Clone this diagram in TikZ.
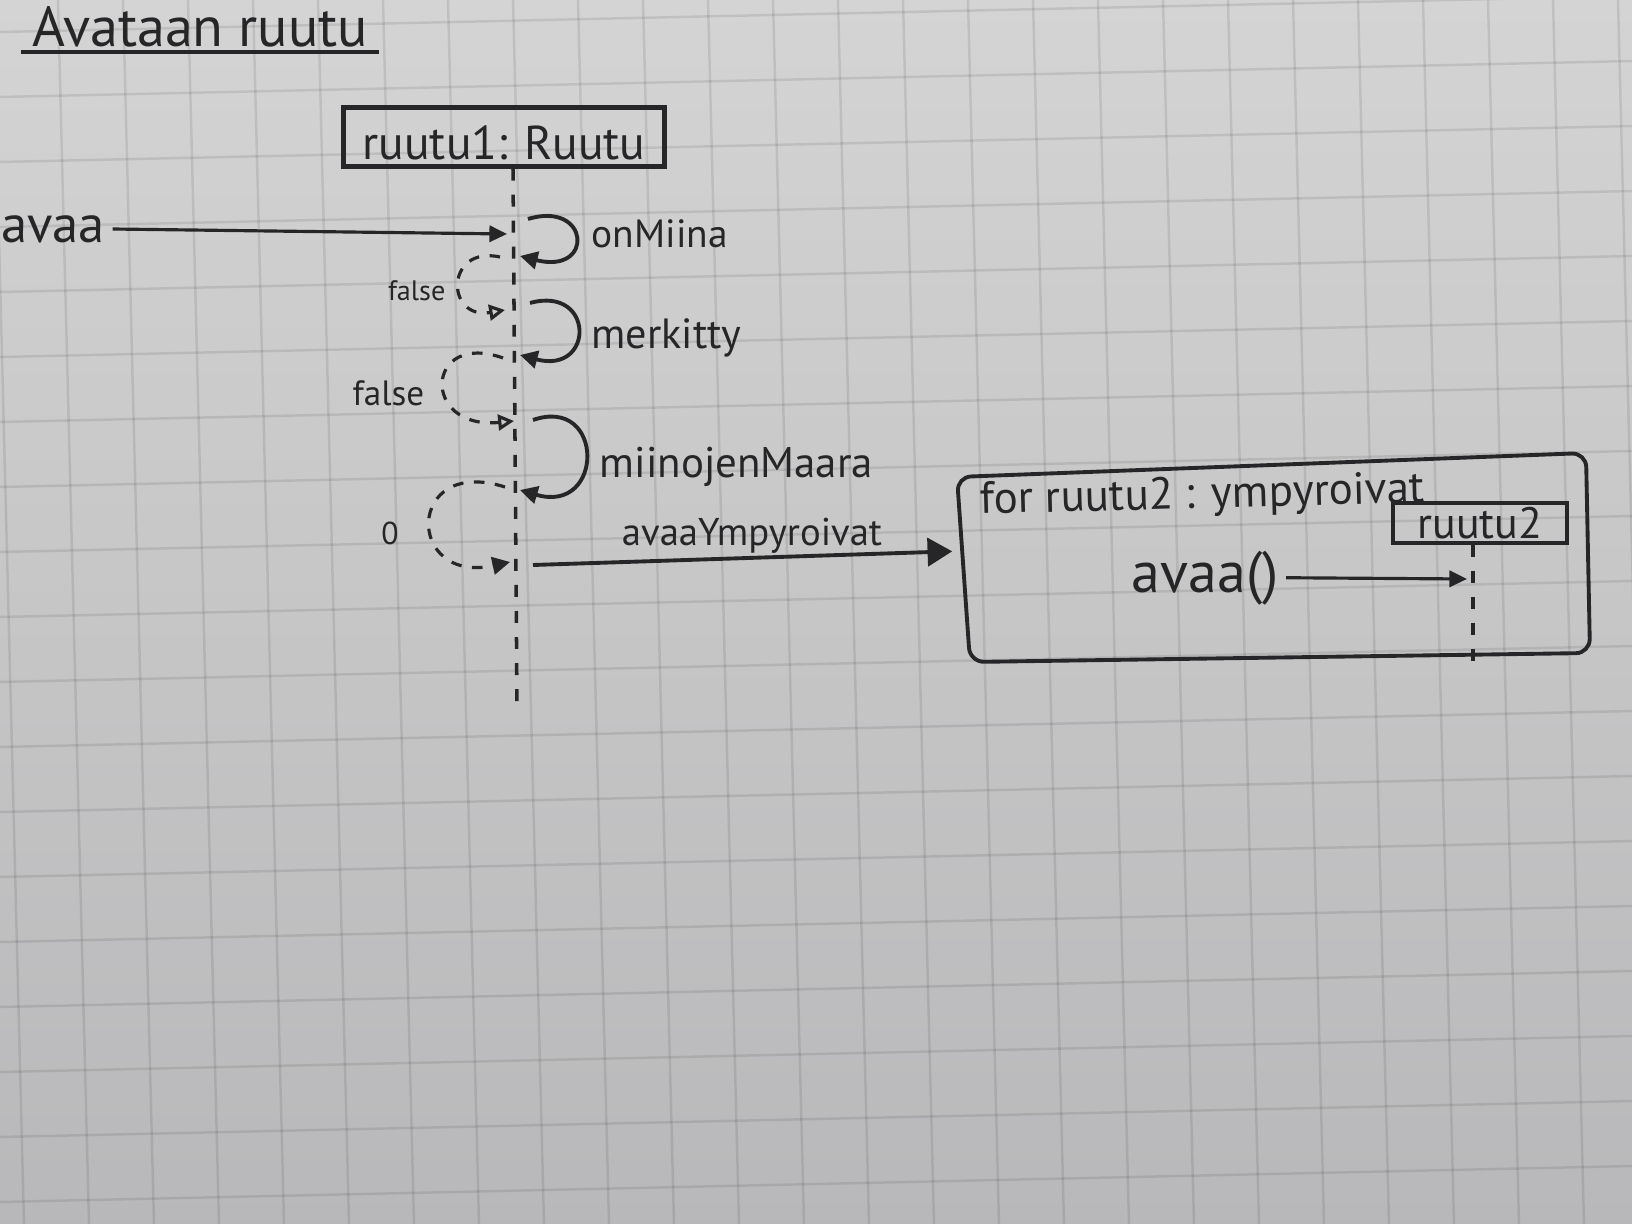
\documentclass[tikz,border=0pt]{standalone}
\usepackage{fontspec}
\setmainfont{PT Sans}
\usetikzlibrary{arrows.meta,calc}
\definecolor{ink}{RGB}{38,38,40}
\definecolor{paperTop}{RGB}{212,212,212}
\definecolor{paperBot}{RGB}{184,184,186}

\begin{document}
\begin{tikzpicture}[
    x = 0.01cm, y = -0.01cm,
    color = ink,
    every node/.style = {inner sep=0.07cm},
    fs/.style       = {font=\fontsize{#1}{#1}\selectfont},
    gridline/.style = {draw=black, draw opacity=0.09, line width=0.7pt},
    title/.style    = {fs=16, inner xsep=0.1cm, inner ysep=0.04cm},
    obj/.style      = {draw, line width=1.2pt, fs=13.5, minimum width=3.21cm,
      text height=0.48cm, text depth=0.03cm, inner ysep=0.04cm},
    obj2/.style     = {draw, line width=1pt, fs=12.5, minimum width=1.74cm,
      minimum height=0.40cm, inner sep=0},
    lifeline/.style = {line width=1pt, dash pattern=on 3.4pt off 4pt},
    msg/.style      = {line width=0.9pt, -{Triangle[length=5pt, width=4.6pt]}},
    bigmsg/.style   = {line width=1.1pt, -{Triangle[length=7pt, width=8pt]}},
    selfmsg/.style  = {line width=1.1pt, -{Triangle[length=5pt, width=5pt]}},
    ret/.style      = {line width=0.9pt, dash pattern=on 3pt off 3pt,
      -{Triangle[open, length=4.5pt, width=4.5pt]}},
    retfill/.style  = {line width=0.9pt, dash pattern=on 3pt off 3pt,
      -{Triangle[length=5pt, width=5pt]}},
    loopframe/.style = {line width=1.1pt, rounded corners=4pt}
  ]
  % paper
  \useasboundingbox (0,0) rectangle (1632,1224);
  \shade[top color=paperTop, bottom color=paperBot] (0,0) rectangle (1632,1224);
  \foreach \k in {0,...,25}
    \draw[gridline] (\k*65-7,0) -- ++(31,1224);
  \foreach \k in {0,...,19}
    \draw[gridline] (0,32+\k*65) -- ++(1632,-36);

  \node[title] (title) at (200,27) {Avataan ruutu};
  \draw[line width=1.2pt] (title.south west) -- (title.south east);

  \node[obj] (obj) at (504,137) {ruutu1: Ruutu};
  \coordinate (l1end) at (517,708);
  \draw[lifeline] ($(obj.south)+(9,0)$) -- (l1end);

  \node[fs=15] (avaa) at (53,229) {avaa};
  \coordinate (avaaEnd) at (507,234);
  \draw[msg] (avaa.east) -- (avaaEnd);

  % kutsut itselle
  \coordinate (onMiinaA) at (528,219);
  \coordinate (onMiinaB) at (520,256);
  \draw[selfmsg] (onMiinaA) .. controls +(62,-19) and +(75,19) .. (onMiinaB);
  \node[fs=11.2, anchor=base west] (onMiina) at (584,248) {onMiina};

  \coordinate (false1A) at (500,257);
  \coordinate (false1B) at (505,310);
  \draw[ret] (false1A) .. controls +(-55,-12) and +(-60,10) .. (false1B);
  \node[fs=8, anchor=base east] (false1) at (453,300) {false};

  \coordinate (merkittyA) at (530,303);
  \coordinate (merkittyB) at (520,355);
  \draw[selfmsg] (merkittyA) .. controls +(65,-18) and +(75,20) .. (merkittyB);
  \node[fs=12, anchor=base west] (merkitty) at (584,348) {merkitty};

  \coordinate (false2A) at (503,358);
  \coordinate (false2B) at (514,421);
  \draw[ret] (false2A) .. controls +(-78,-28) and +(-94,9) .. (false2B);
  \node[fs=10, anchor=base east] (false2) at (432,405) {false};

  \coordinate (maaraA) at (533,420);
  \coordinate (maaraB) at (520,490);
  \draw[selfmsg] (maaraA) .. controls +(72,-25) and +(85,25) .. (maaraB);
  \node[fs=12.2, anchor=base west] (maara) at (592,477) {miinojenMaara};

  \coordinate (zeroA) at (505,487);
  \coordinate (zeroB) at (510,562);
  \draw[retfill] (zeroA) .. controls +(-100,-32) and +(-105,23) .. (zeroB);
  \node[fs=9] (zero) at (390,533) {0};

  % silmukka
  \coordinate (fnw) at (957,477);
  \coordinate (fne) at (1586,453);
  \coordinate (fse) at (1590,653);
  \coordinate (fsw) at (970,662);
  \draw[loopframe] (fnw) -- (fne) -- (fse) -- (fsw) -- cycle;
  \node[fs=12.8, anchor=base west, rotate=1.5] (forLbl) at (973,514) {for ruutu2 : ympyroivat};

  \coordinate (ayStart) at (533,565);
  \draw[bigmsg, shorten >=0.1cm] (ayStart) -- ($(fnw)!0.4!(fsw)$);
  \node[fs=11, anchor=base] (ayLbl) at (752,545) {avaaYmpyroivat};

  \node[obj2] (obj2) at (1480,523) {ruutu2};
  \coordinate (l2end) at (1473,661);
  \draw[lifeline] (obj2.south -| l2end) -- (l2end);

  \node[fs=16.5, anchor=base west] (avaa2) at (1124,592) {avaa()};
  \coordinate (avaa2End) at (1467,579);
  \draw[msg] (avaa2.east) -- (avaa2End);
\end{tikzpicture}
\end{document}
